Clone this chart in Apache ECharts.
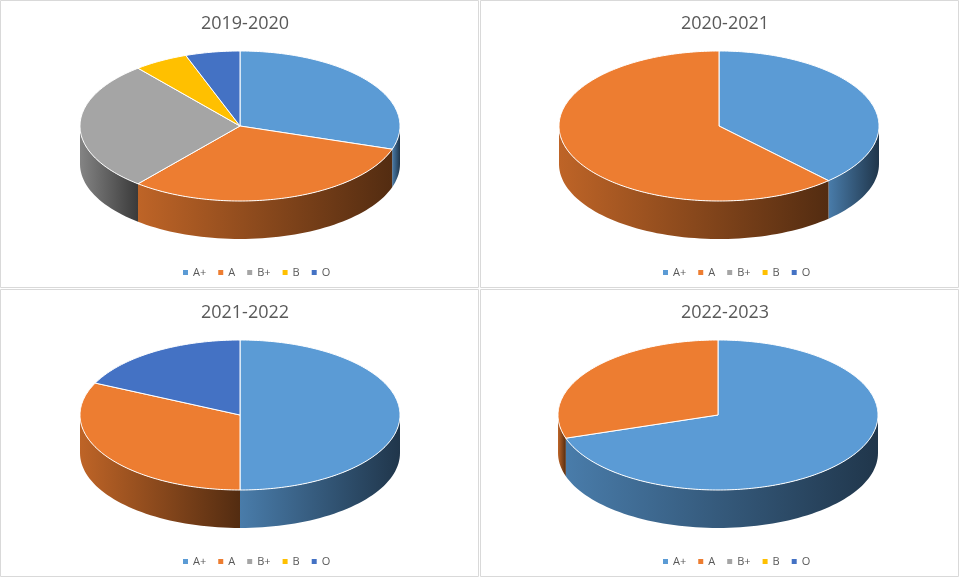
<!DOCTYPE html>
<html>
<head>
<meta charset="utf-8">
<script src="https://cdn.jsdelivr.net/npm/echarts@6/dist/echarts.min.js"></script>
<style>html,body{margin:0;padding:0;background:#fff}#main{width:961px;height:579px}</style>
</head>
<body>
<div id="main"></div>
<script>
// ---- data (percent shares)
var grades = ['A+', 'A', 'B+', 'B', 'O'];
var colors = ['#5B9BD5', '#ED7D31', '#A5A5A5', '#FFC000', '#4472C4'];
var years = ['2019-2020', '2020-2021', '2021-2022', '2022-2023'];
var v2019 = [30, 31, 28, 5.5, 5.5];
var v2020 = [38, 62, 0, 0, 0];
var v2021 = [50, 32, 0, 0, 18];
var v2022 = [70, 30, 0, 0, 0];
var allValues = [v2019, v2020, v2021, v2022];

// panel layout
var panels = [
    { x: 0, y: 0, cx: 240, cy: 126 },
    { x: 480, y: 0, cx: 719, cy: 126 },
    { x: 0, y: 289, cx: 240, cy: 415 },
    { x: 480, y: 289, cx: 718, cy: 415 }
];
var RX = 160, RY = 75, DEPTH = 38;

function shade(hex, f) {
    var n = parseInt(hex.slice(1), 16);
    var r = Math.round(((n >> 16) & 255) * f), g = Math.round(((n >> 8) & 255) * f), b = Math.round((n & 255) * f);
    return 'rgb(' + r + ',' + g + ',' + b + ')';
}

function pt(p, t, dy) {
    var a = t * Math.PI / 180;
    return [p.cx + RX * Math.sin(a), p.cy - RY * Math.cos(a) + (dy || 0)];
}

// slices: [start, end, colorIdx]
function slices(vals) {
    var sum = vals.reduce(function (a, b) { return a + b; }, 0);
    var acc = 0, out = [];
    vals.forEach(function (v, i) {
        if (v > 0) {
            var s = acc / sum * 360;
            acc += v;
            out.push([s, acc / sum * 360, i]);
        }
    });
    return out;
}

function sideRender(p) {
    return function (params, api) {
        var s = Math.max(api.value(0), 90), e = Math.min(api.value(1), 270);
        var c = colors[api.value(2)];
        if (e <= s) return null;
        var top = [], bot = [];
        for (var t = s; t < e; t += 2) { top.push(pt(p, t)); bot.push(pt(p, t, DEPTH)); }
        top.push(pt(p, e)); bot.push(pt(p, e, DEPTH));
        return {
            type: 'polygon',
            shape: { points: top.concat(bot.reverse()) },
            style: {
                fill: new echarts.graphic.LinearGradient(0, 0, 1, 0, [
                    { offset: 0, color: shade(c, 0.8) },
                    { offset: 1, color: shade(c, 0.35) }
                ])
            }
        };
    };
}

function topRender(p) {
    return function (params, api) {
        var s = api.value(0), e = api.value(1);
        var pts = [[p.cx, p.cy]];
        for (var t = s; t < e; t += 1) pts.push(pt(p, t));
        pts.push(pt(p, e));
        return {
            type: 'polygon',
            shape: { points: pts },
            style: { fill: colors[api.value(2)], stroke: '#fff', lineWidth: 1 }
        };
    };
}

var series = [], titles = [], legends = [], graphics = [];
panels.forEach(function (p, i) {
    var d = slices(allValues[i]);
    series.push({ type: 'custom', coordinateSystem: 'none', z: 1, silent: true, renderItem: sideRender(p), data: d });
    series.push({ type: 'custom', coordinateSystem: 'none', z: 2, silent: true, renderItem: topRender(p), data: d });
    titles.push({
        text: years[i], left: p.x + 240, top: p.y + 10, textAlign: 'center',
        textStyle: { fontSize: 18, fontWeight: 'normal', color: '#595959', fontFamily: 'Open Sans' }
    });
    legends.push({
        data: grades, left: p.x + 178, top: p.y + 262, icon: 'rect', itemWidth: 5, itemHeight: 5, itemGap: 12,
        textStyle: { fontSize: 11, color: '#595959', fontFamily: 'Open Sans' }, selectedMode: false
    });
    graphics.push({
        type: 'rect', shape: { x: p.x + 0.5, y: p.y + 0.5, width: 478, height: 287 },
        style: { fill: null, stroke: '#D9D9D9', lineWidth: 1 }, z: -1
    });
});

// invisible pie to feed the legend names/colours
series.push({
    type: 'pie', radius: [0, 0], center: [-100, -100], label: { show: false }, silent: true,
    data: grades.map(function (g, i) { return { name: g, value: 1, itemStyle: { color: colors[i] } }; })
});

var chart = echarts.init(document.getElementById('main'));
chart.setOption({
    animation: false,
    color: colors,
    title: titles,
    legend: legends,
    graphic: graphics,
    series: series
});
</script>
</body>
</html>
